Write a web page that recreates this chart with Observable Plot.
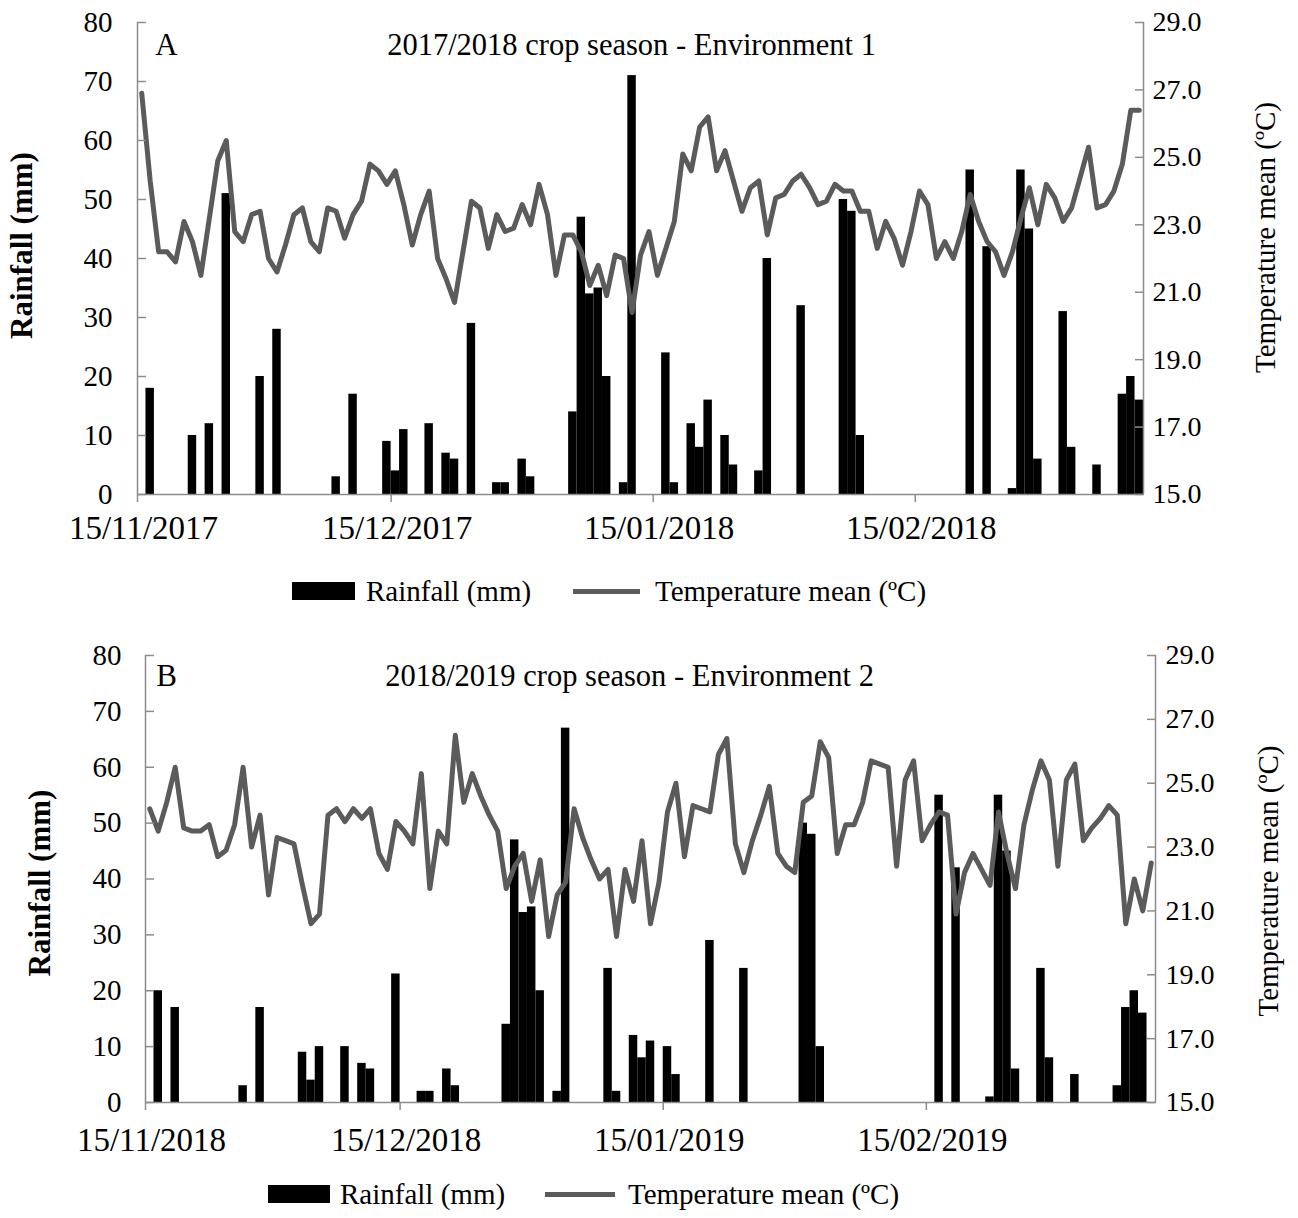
<!DOCTYPE html>
<html>
<head>
<meta charset="utf-8">
<script src="https://cdn.jsdelivr.net/npm/d3@7"></script>
<script src="https://cdn.jsdelivr.net/npm/@observablehq/plot@0.6"></script>
<style>
  html, body { margin: 0; padding: 0; background: #fff; }
  #wrap { position: relative; width: 1298px; height: 1218px; overflow: hidden; background: #fff;
          font-family: "Liberation Serif", "Times New Roman", serif; color: #000; }
  .svgbox { position: absolute; left: 0; }
  .lg { position: absolute; }
  .lgt { position: absolute; font-size: 29px; line-height: 34px; white-space: nowrap; }
</style>
</head>
<body>
<div id="wrap"></div>
<script>
// ---------------- DATA ----------------
const startA = "2017-11-15";
const startB = "2018-11-15";
const titleA = "2017/2018 crop season - Environment 1";
const titleB = "2018/2019 crop season - Environment 2";

// daily rainfall (mm), one value per day from the start date
const rainA = [
  0,18,0,0,0,0,10,0,12,0,
  51,0,0,0,20,0,28,0,0,0,
  0,0,0,3,0,17,0,0,0,9,
  4,11,0,0,12,0,7,6,0,29,
  0,0,2,2,0,6,3,0,0,0,
  0,14,47,34,35,20,0,2,71,0,
  0,0,24,2,0,12,8,16,0,10,
  5,0,0,4,40,0,0,0,32,0,
  0,0,0,50,48,10,0,0,0,0,
  0,0,0,0,0,0,0,0,55,0,
  42,0,0,1,55,45,6,0,0,31,
  8,0,0,5,0,0,17,20,16
];
// daily mean temperature (°C)
const tempA = [
  26.9,24.3,22.2,22.2,21.9,23.1,22.5,21.5,23.2,24.9,
  25.5,22.8,22.5,23.3,23.4,22.0,21.6,22.4,23.3,23.5,
  22.5,22.2,23.5,23.4,22.6,23.3,23.7,24.8,24.6,24.2,
  24.6,23.6,22.4,23.3,24.0,22.0,21.4,20.7,22.2,23.7,
  23.5,22.3,23.3,22.8,22.9,23.6,23.0,24.2,23.3,21.5,
  22.7,22.7,22.2,21.2,21.8,20.9,22.1,22.0,20.4,22.1,
  22.8,21.5,22.3,23.1,25.1,24.6,25.9,26.2,24.6,25.2,
  24.3,23.4,24.1,24.3,22.7,23.8,23.9,24.3,24.5,24.1,
  23.6,23.7,24.2,24.0,24.0,23.4,23.4,22.3,23.1,22.6,
  21.8,22.8,24.0,23.6,22.0,22.5,22.0,22.8,23.9,23.1,
  22.5,22.2,21.5,22.2,23.2,24.1,23.0,24.2,23.8,23.1,
  23.5,24.4,25.3,23.5,23.6,24.0,24.8,26.4,26.4
];
const rainB = [
  0,20,0,17,0,0,0,0,0,0,
  0,3,0,17,0,0,0,0,9,4,
  10,0,0,10,0,7,6,0,0,23,
  0,0,2,2,0,6,3,0,0,0,
  0,0,14,47,34,35,20,0,2,67,
  0,0,0,0,24,2,0,12,8,11,
  0,10,5,0,0,0,29,0,0,0,
  24,0,0,0,0,0,0,50,48,10,
  0,0,0,0,0,0,0,0,0,0,
  0,0,0,55,0,42,0,0,0,1,
  55,45,6,0,0,24,8,0,0,5,
  0,0,0,0,3,17,20,16,0
];
const tempB = [
  24.2,23.5,24.4,25.5,23.6,23.5,23.5,23.7,22.7,22.9,
  23.7,25.5,23.0,24.0,21.5,23.3,23.2,23.1,21.8,20.6,
  20.9,24.0,24.2,23.8,24.2,23.9,24.2,22.8,22.3,23.8,
  23.5,23.1,25.3,21.7,23.5,23.1,26.5,24.4,25.3,24.6,
  24.0,23.5,21.7,22.4,22.8,21.3,22.6,20.2,21.5,21.9,
  24.2,23.3,22.6,22.0,22.3,20.2,22.3,21.3,23.2,20.6,
  21.9,24.1,25.0,22.7,24.3,24.2,24.1,25.9,26.4,23.1,
  22.2,23.2,24.0,24.9,22.8,22.4,22.2,24.4,24.6,26.3,
  25.8,22.8,23.7,23.7,24.4,25.7,25.6,25.5,22.4,25.1,
  25.7,23.2,23.7,24.1,24.0,20.9,22.2,22.8,22.3,21.8,
  24.1,22.8,21.7,23.7,24.8,25.7,25.1,22.4,25.1,25.6,
  23.2,23.6,23.9,24.3,24.0,20.6,22.0,21.0,22.5
];

const rainTicks = [0, 10, 20, 30, 40, 50, 60, 70, 80];
const tempTicks = [15, 17, 19, 21, 23, 25, 27, 29];
const xTicksA = ["2017-11-15", "2017-12-15", "2018-01-15", "2018-02-15"];
const xTicksB = ["2018-11-15", "2018-12-15", "2019-01-15", "2019-02-15"];

// ---------------- CHART ----------------
const SERIF = "'Liberation Serif', 'Times New Roman', serif";
const AXIS = "#8c8c8c";
const LINE = "#5b5b5b";
const rMax = 80, tMin = 15, tMax = 29;
const toY = t => (t - tMin) * rMax / (tMax - tMin);
const fromY = v => tMin + v * (tMax - tMin) / rMax;

function panel(o) {
  const start = new Date(o.start);
  const n = o.rain.length;
  const end = d3.utcDay.offset(start, n);
  const rows = o.rain.map((r, i) => {
    const d0 = d3.utcDay.offset(start, i);
    return {d0, d1: d3.utcDay.offset(d0, 1), mid: d3.utcHour.offset(d0, 12), rain: r, temp: o.temp[i]};
  });
  const ticksX = o.xticks.map(s => new Date(s));
  const fmt = d3.utcFormat("%d/%m/%Y");
  const tY = tempTicks.map(toY);
  return Plot.plot({
    width: 1298, height: o.height,
    marginLeft: o.ml, marginRight: o.mr, marginTop: o.mt, marginBottom: o.mb,
    style: {fontFamily: SERIF, color: "#000", background: "#fff", overflow: "visible"},
    x: {type: "utc", domain: [start, end]},
    y: {domain: [0, rMax]},
    marks: [
      Plot.rectY(rows, {x1: "d0", x2: "d1", y: "rain", fill: "#000"}),
      Plot.line(rows, {x: "mid", y: d => toY(d.temp), stroke: LINE, strokeWidth: 5,
                       strokeLinejoin: "round", strokeLinecap: "round"}),
      Plot.ruleY([0], {stroke: AXIS, strokeWidth: 1.5}),
      Plot.ruleX([start], {stroke: AXIS, strokeWidth: 1.5}),
      Plot.ruleX([end], {stroke: AXIS, strokeWidth: 1.5}),
      Plot.axisY({anchor: "left", ticks: rainTicks, tickSize: -9, stroke: AXIS, strokeWidth: 1.5, fill: "none", label: null}),
      Plot.axisY({anchor: "left", ticks: rainTicks, tickSize: 0, tickPadding: o.lpad, fontSize: 29, label: null,
                  tickFormat: d => String(d)}),
      Plot.axisY({anchor: "right", ticks: tY, tickSize: -9, stroke: AXIS, strokeWidth: 1.5, fill: "none", label: null}),
      Plot.axisY({anchor: "right", ticks: tY, tickSize: 0, tickPadding: o.rpad, fontSize: 28, label: null,
                  tickFormat: v => fromY(v).toFixed(1)}),
      Plot.axisX({ticks: ticksX, tickSize: 8, stroke: AXIS, strokeWidth: 1.5, fill: "none", label: null}),
      Plot.axisX({ticks: ticksX, tickSize: 0, tickPadding: o.xpad, fontSize: 33, dx: 6, label: null, tickFormat: fmt}),
      Plot.text([o.letter], {text: d => d, frameAnchor: "top-left", textAnchor: "middle", lineAnchor: "middle",
                             dx: o.letterDx, dy: o.titleDy, fontSize: 31}),
      Plot.text([o.title], {text: d => d, frameAnchor: "top", textAnchor: "middle", lineAnchor: "middle",
                            dx: o.titleDx, dy: o.titleDy, fontSize: 30.5}),
      Plot.text(["Rainfall (mm)"], {text: d => d, frameAnchor: "left", rotate: -90, textAnchor: "middle",
                                    lineAnchor: "middle", dx: o.ltDx, dy: o.ltDy, fontSize: 31, fontWeight: "bold"}),
      Plot.text(["Temperature mean (ºC)"], {text: d => d, frameAnchor: "right", rotate: -90, textAnchor: "middle",
                                    lineAnchor: "middle", dx: o.rtDx, dy: o.rtDy, fontSize: 29})
    ]
  });
}

const wrap = document.getElementById("wrap");

function addSvg(svg, top) {
  const box = document.createElement("div");
  box.className = "svgbox";
  box.style.top = top + "px";
  box.appendChild(svg);
  wrap.appendChild(box);
}

function addLegend(cy, rectX, rectW, text1X, lineX, lineW, text2X) {
  const r = document.createElement("div");
  r.className = "lg";
  Object.assign(r.style, {left: rectX + "px", top: (cy - 9) + "px", width: rectW + "px", height: "18px", background: "#000"});
  wrap.appendChild(r);
  const t1 = document.createElement("div");
  t1.className = "lgt";
  t1.textContent = "Rainfall (mm)";
  Object.assign(t1.style, {left: text1X + "px", top: (cy - 17) + "px"});
  wrap.appendChild(t1);
  const l = document.createElement("div");
  l.className = "lg";
  Object.assign(l.style, {left: lineX + "px", top: (cy - 2.5) + "px", width: lineW + "px", height: "5px", background: LINE});
  wrap.appendChild(l);
  const t2 = document.createElement("div");
  t2.className = "lgt";
  t2.textContent = "Temperature mean (ºC)";
  Object.assign(t2.style, {left: text2X + "px", top: (cy - 17) + "px"});
  wrap.appendChild(t2);
}

addSvg(panel({
  start: startA, rain: rainA, temp: tempA, xticks: xTicksA, letter: "A", title: titleA,
  height: 560, ml: 137, mr: 155, mt: 22, mb: 66,
  lpad: 25, rpad: 9, xpad: 21,
  letterDx: 29, titleDx: -9, titleDy: 23,
  ltDx: -115, ltDy: -13, rtDx: 122, rtDy: -21
}), 0);
addLegend(591, 292, 63, 366, 573, 67, 655);

addSvg(panel({
  start: startB, rain: rainB, temp: tempB, xticks: xTicksB, letter: "B", title: titleB,
  height: 540, ml: 145, mr: 143, mt: 35, mb: 58,
  lpad: 24, rpad: 10, xpad: 25,
  letterDx: 21, titleDx: -21, titleDy: 21,
  ltDx: -105, ltDy: 4, rtDx: 113, rtDy: 2
}), 620);
addLegend(1194, 268, 62, 340, 545, 70, 628);
</script>
</body>
</html>
